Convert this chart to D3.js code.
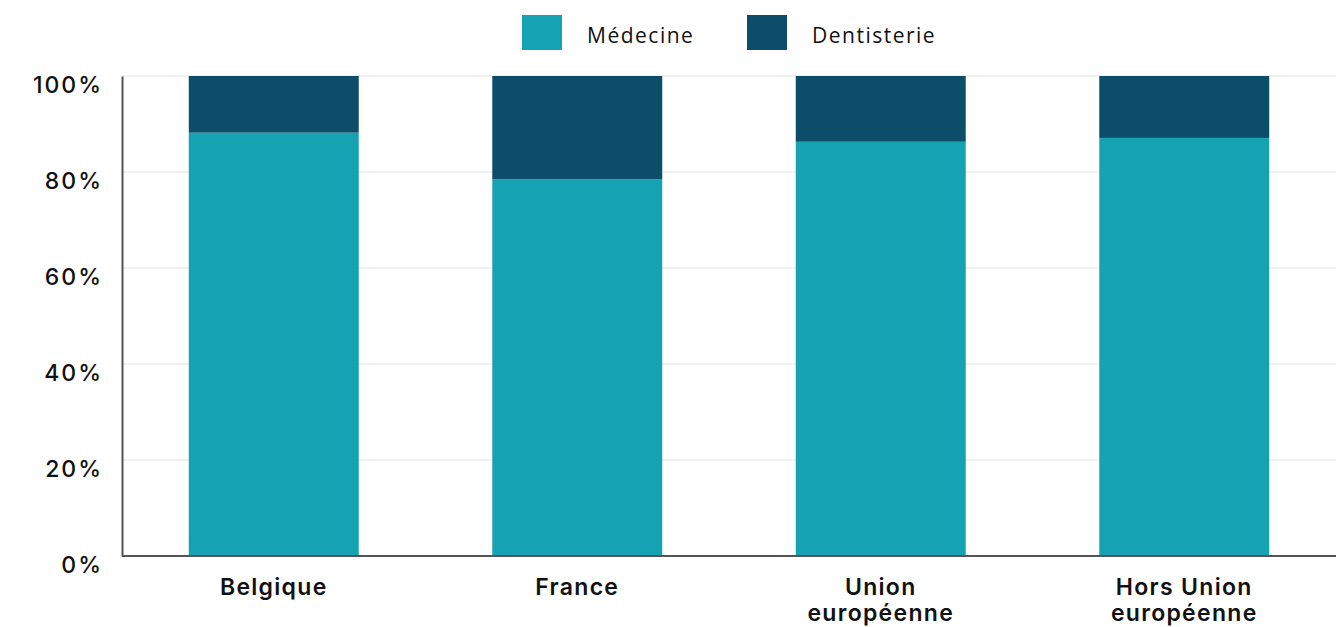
<!DOCTYPE html>
<html><head><meta charset="utf-8">
<script src="https://cdn.jsdelivr.net/npm/d3@7"></script>
<style>body{margin:0;background:#fff}</style>
</head><body>
<svg id="c" width="1344" height="627"></svg>
<script>
const categories = [["Belgique"], ["France"], ["Union", "européenne"], ["Hors Union", "européenne"]];
const seriesNames = ["Médecine", "Dentisterie"];
const medecine = [88.2, 78.5, 86.3, 87.1];
const dentisterie = [11.8, 21.5, 13.7, 12.9];
const yTicks = [0, 20, 40, 60, 80, 100];
const colors = ["#15a2b2", "#0c4d6a"];

const svg = d3.select("#c");
const m = {l: 122, r: 8, t: 76, b: 71};
const W = 1344, H = 627;
const keys = categories.map(c => c.join(" "));
const x = d3.scaleBand().domain(keys).range([m.l, W - m.r]).paddingInner(0.44).paddingOuter(0.22);
const y = d3.scaleLinear().domain([0, 100]).range([H - m.b, m.t]);

// grid
svg.append("g").selectAll("line").data(yTicks.filter(d => d > 0)).join("line")
  .attr("x1", m.l).attr("x2", W - m.r).attr("y1", d => y(d)).attr("y2", d => y(d))
  .attr("stroke", "#e3e3e3").attr("stroke-width", 1.2);

const rows = keys.map((k, i) => ({key: k, med: medecine[i], den: dentisterie[i]}));
const stack = d3.stack().keys(["med", "den"])(rows);
svg.append("g").selectAll("g").data(stack).join("g").attr("fill", (d, i) => colors[i])
  .selectAll("rect").data(d => d).join("rect")
  .attr("x", d => x(d.data.key)).attr("width", x.bandwidth())
  .attr("y", d => y(Math.min(d[1], 100))).attr("height", d => y(d[0]) - y(Math.min(d[1], 100)));

// axes
const yAxis = svg.append("g").attr("transform", `translate(${m.l},0)`)
  .call(d3.axisLeft(y).tickValues(yTicks).tickFormat(d => d + "%").tickSize(0).tickPadding(19));
yAxis.select(".domain").attr("stroke", "#555").attr("stroke-width", 2);
yAxis.selectAll("text").attr("dy", "0.72em").style("font-family", "Inter, sans-serif")
  .style("font-size", "23px").style("font-weight", 500).style("letter-spacing", "2px").attr("fill", "#111");

const xAxis = svg.append("g").attr("transform", `translate(0,${y(0)})`)
  .call(d3.axisBottom(x).tickSize(0).tickFormat(""));
xAxis.select(".domain").attr("stroke", "#555").attr("stroke-width", 2).attr("d", `M${m.l},0H${W - m.r}`);
xAxis.selectAll(".tick").each(function(d, i) {
  const t = d3.select(this).append("text").attr("fill", "#111").attr("text-anchor", "middle")
    .style("font-family", "Inter, sans-serif").style("font-size", "23px").style("font-weight", 600)
    .style("letter-spacing", "1.3px");
  categories[i].forEach((line, j) => t.append("tspan").attr("x", 0).attr("y", 39 + j * 26).text(line));
});

// legend
const leg = svg.append("g");
const legX = [522, 747];
seriesNames.forEach((n, i) => {
  leg.append("rect").attr("x", legX[i]).attr("y", 15).attr("width", 40).attr("height", 35).attr("fill", colors[i]);
  leg.append("text").attr("x", legX[i] + 65).attr("y", 43).text(n)
    .style("font-family", "'Open Sans', sans-serif").style("font-size", "21px").style("letter-spacing", "1.5px")
    .attr("fill", "#111");
});
</script>
</body></html>
